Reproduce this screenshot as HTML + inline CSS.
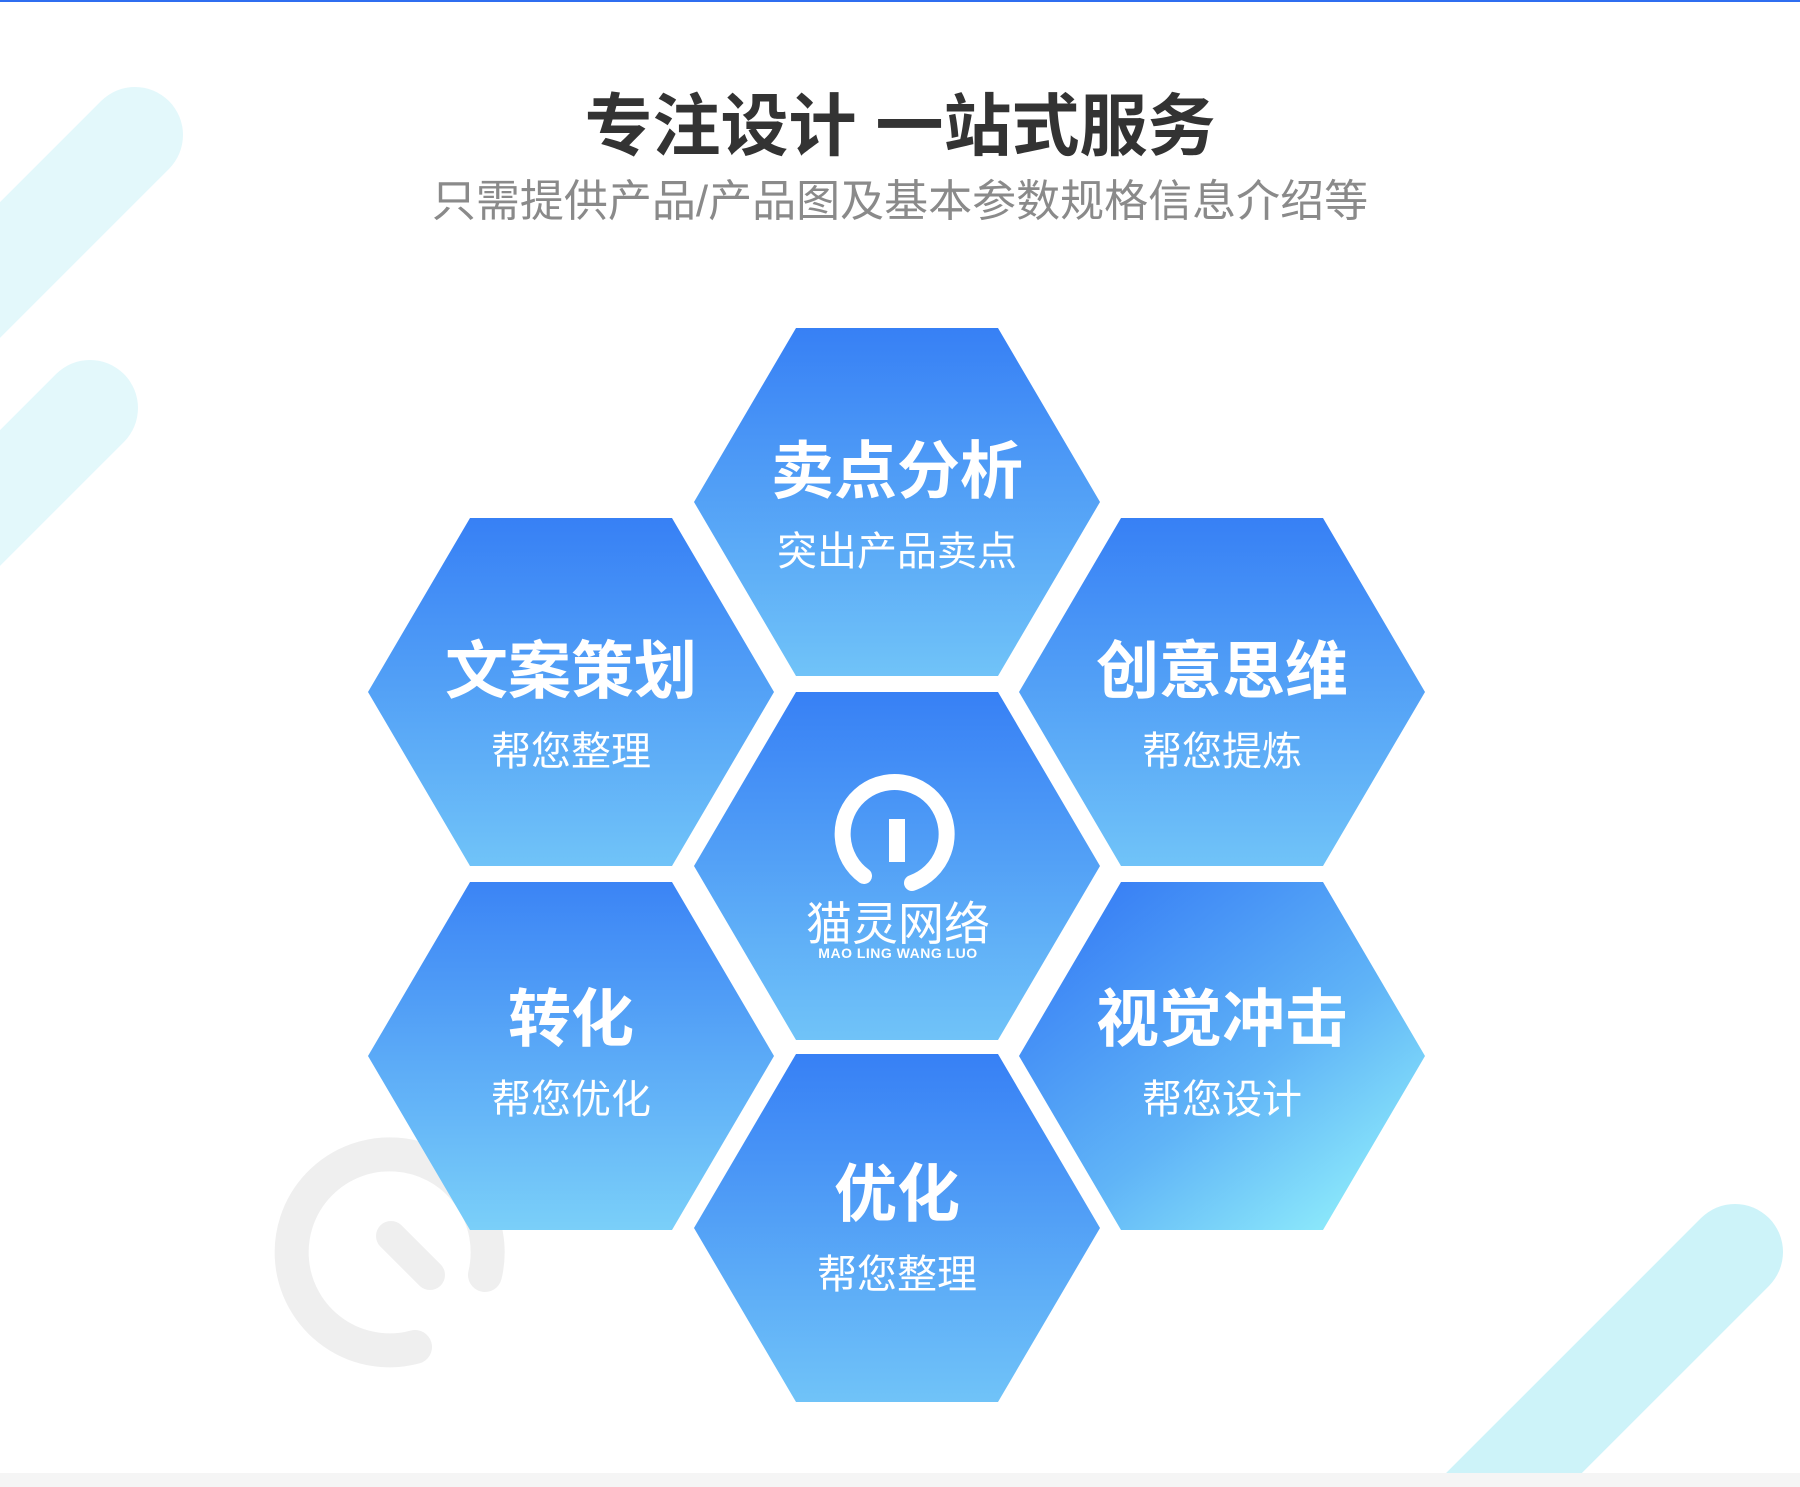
<!DOCTYPE html>
<html><head><meta charset="utf-8">
<style>
html,body{margin:0;padding:0;background:#fff;}
body{width:1800px;height:1487px;overflow:hidden;position:relative;}
svg{position:absolute;left:0;top:0;}
</style></head>
<body>
<svg width="1800" height="1487" viewBox="0 0 1800 1487" xmlns="http://www.w3.org/2000/svg">
<defs>
<linearGradient id="gv" x1="0" y1="0" x2="0" y2="1">
<stop offset="0" stop-color="#3780f5"/><stop offset="1" stop-color="#70c3f8"/>
</linearGradient>
<linearGradient id="gl" x1="0" y1="0" x2="0" y2="1">
<stop offset="0" stop-color="#3b84f5"/><stop offset="1" stop-color="#7acff9"/>
</linearGradient>
<linearGradient id="gd" x1="0.15" y1="0.1" x2="0.9" y2="0.95">
<stop offset="0" stop-color="#3a82f5"/><stop offset="0.55" stop-color="#60b4f7"/><stop offset="1" stop-color="#90eefb"/>
</linearGradient>
<polygon id="hx" points="-203,0 -101,-174 101,-174 203,0 101,174 -101,174"/>
</defs>
<rect x="0" y="0" width="1800" height="2" fill="#2f6ef0"/>
<g stroke-linecap="round" fill="none">
<line x1="135" y1="135" x2="-120" y2="390" stroke="#e3f8fb" stroke-width="96"/>
<line x1="90" y1="408" x2="-120" y2="618" stroke="#e3f8fb" stroke-width="96"/>
<line x1="1735" y1="1252" x2="1480" y2="1507" stroke="#cdf3f9" stroke-width="96"/>
</g>
<rect x="0" y="1473" width="1800" height="14" fill="#f5f5f5"/>
<g stroke="#efefef" fill="none" stroke-linecap="round">
<path d="M 485 1275 A 98 98 0 1 0 415 1347" stroke-width="34"/>
<line x1="391" y1="1236" x2="430" y2="1275" stroke-width="30"/>
</g>
<use href="#hx" transform="translate(897,502)" fill="url(#gv)"/>
<use href="#hx" transform="translate(571,692)" fill="url(#gv)"/>
<use href="#hx" transform="translate(1222,692)" fill="url(#gv)"/>
<use href="#hx" transform="translate(897,866)" fill="url(#gv)"/>
<use href="#hx" transform="translate(571,1056)" fill="url(#gl)"/>
<use href="#hx" transform="translate(1222,1056)" fill="url(#gd)"/>
<use href="#hx" transform="translate(897,1228)" fill="url(#gv)"/>
<g font-family="'Liberation Sans','Noto Sans CJK SC',sans-serif" text-anchor="middle">
<text x="900" y="150" font-size="68" font-weight="bold" fill="#333">专注设计 一站式服务</text>
<text x="900" y="216" font-size="44" fill="#8a8a8a">只需提供产品/产品图及基本参数规格信息介绍等</text>
<g fill="#fff">
<text x="897" y="493" font-size="63" font-weight="bold">卖点分析</text>
<text x="897" y="565" font-size="40">突出产品卖点</text>
<text x="571" y="693" font-size="63" font-weight="bold">文案策划</text>
<text x="571" y="765" font-size="40">帮您整理</text>
<text x="1222" y="693" font-size="63" font-weight="bold">创意思维</text>
<text x="1222" y="765" font-size="40">帮您提炼</text>
<text x="571" y="1041" font-size="63" font-weight="bold">转化</text>
<text x="571" y="1113" font-size="40">帮您优化</text>
<text x="1222" y="1041" font-size="63" font-weight="bold">视觉冲击</text>
<text x="1222" y="1113" font-size="40">帮您设计</text>
<text x="897" y="1216" font-size="63" font-weight="bold">优化</text>
<text x="897" y="1288" font-size="40">帮您整理</text>
<text x="898" y="940" font-size="46">猫灵网络</text>
<text x="898" y="958" font-size="14" font-weight="bold" letter-spacing="0.5">MAO LING WANG LUO</text>
</g>
</g>
<g stroke="#fff" fill="none" stroke-linecap="round">
<path d="M 864 876 A 52 52 0 1 1 912 883" stroke-width="16"/>
</g>
<rect x="889" y="819" width="16" height="43" fill="#fff"/>
</svg>
</body></html>
